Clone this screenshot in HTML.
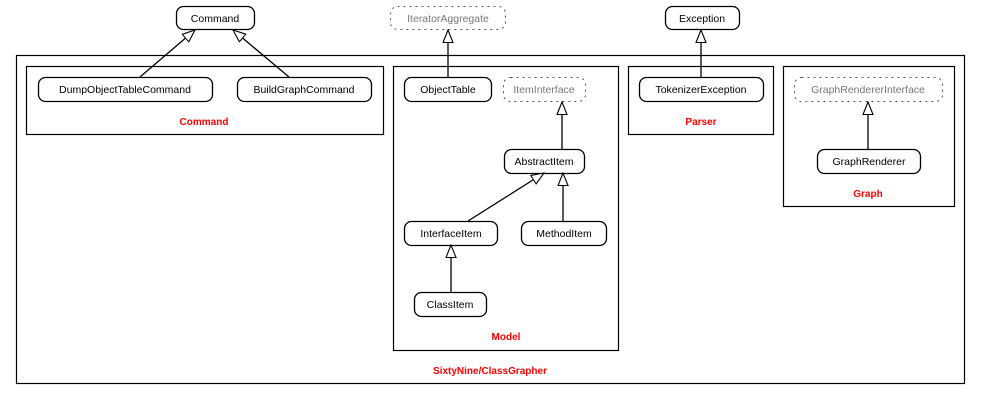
<!DOCTYPE html>
<html><head><meta charset="utf-8"><style>
html,body{margin:0;padding:0;background:#fff;}
svg{display:block;font-family:"Liberation Sans",sans-serif;}
</style></head><body>
<svg width="981" height="400" viewBox="0 0 981 400" xmlns="http://www.w3.org/2000/svg">
<defs>
<marker id="a" markerWidth="14" markerHeight="12" refX="13" refY="5.5" orient="auto" markerUnits="userSpaceOnUse">
<path d="M0.5,0.5 L13,5.5 L0.5,10.5 Z" fill="#fff" stroke="#000" stroke-width="1.1"/>
</marker>
</defs>
<g fill="none" stroke="#000" stroke-width="1.2">
<rect x="16.5" y="55.5" width="948" height="328"/>
<rect x="26.5" y="66.5" width="357" height="68"/>
<rect x="393.5" y="66.5" width="225" height="284"/>
<rect x="628.5" y="66.5" width="145" height="68"/>
<rect x="783.5" y="66.5" width="171" height="140"/>
</g>
<g fill="#fff" stroke="#000" stroke-width="1.3">
<rect x="176.5" y="6.5" width="78" height="23" rx="7"/>
<rect x="665.5" y="6.5" width="74" height="23" rx="7"/>
<rect x="38.5" y="77.5" width="174" height="24" rx="7"/>
<rect x="237.5" y="77.5" width="134" height="24" rx="7"/>
<rect x="404.5" y="77.5" width="87" height="24" rx="7"/>
<rect x="504.5" y="149.5" width="80" height="24" rx="7"/>
<rect x="404.5" y="221.5" width="93" height="24" rx="7"/>
<rect x="521.5" y="221.5" width="85" height="24" rx="7"/>
<rect x="414.5" y="292.5" width="72" height="24" rx="7"/>
<rect x="639.5" y="77.5" width="124" height="24" rx="7"/>
<rect x="817.5" y="149.5" width="103" height="24" rx="7"/>
</g>
<g fill="#fff" stroke="#555" stroke-width="1" stroke-dasharray="2,4">
<rect x="390.5" y="6.5" width="115" height="23" rx="7"/>
<rect x="503.5" y="77.5" width="82" height="24" rx="7"/>
<rect x="794.5" y="77.5" width="148" height="24" rx="7"/>
</g>
<g stroke="#000" stroke-width="1.3" marker-end="url(#a)">
<line x1="140" y1="77" x2="195" y2="30"/>
<line x1="289" y1="77" x2="233" y2="30"/>
<line x1="448" y1="77" x2="448" y2="30"/>
<line x1="701" y1="77" x2="701" y2="30"/>
<line x1="562" y1="149" x2="562" y2="102"/>
<line x1="468" y1="221" x2="544" y2="173"/>
<line x1="563" y1="221" x2="563" y2="173"/>
<line x1="451" y1="292" x2="451" y2="245"/>
<line x1="868" y1="149" x2="868" y2="102"/>
</g>
<g font-size="10.5" text-anchor="middle" fill="#000">
<text x="215" y="22">Command</text>
<text x="702" y="22">Exception</text>
<text x="125" y="93">DumpObjectTableCommand</text>
<text x="304" y="93">BuildGraphCommand</text>
<text x="448" y="93">ObjectTable</text>
<text x="544" y="165">AbstractItem</text>
<text x="451" y="237">InterfaceItem</text>
<text x="564" y="237">MethodItem</text>
<text x="450" y="308">ClassItem</text>
<text x="701" y="93">TokenizerException</text>
<text x="869" y="165">GraphRenderer</text>
<g fill="#777">
<text x="448" y="22">IteratorAggregate</text>
<text x="544" y="93">ItemInterface</text>
<text x="868" y="93">GraphRendererInterface</text>
</g>
<g fill="#f00" font-weight="bold" font-size="10">
<text x="204" y="125">Command</text>
<text x="506" y="340">Model</text>
<text x="701" y="125">Parser</text>
<text x="868" y="197">Graph</text>
<text x="490" y="374">SixtyNine/ClassGrapher</text>
</g>
</g>
</svg>
</body></html>
